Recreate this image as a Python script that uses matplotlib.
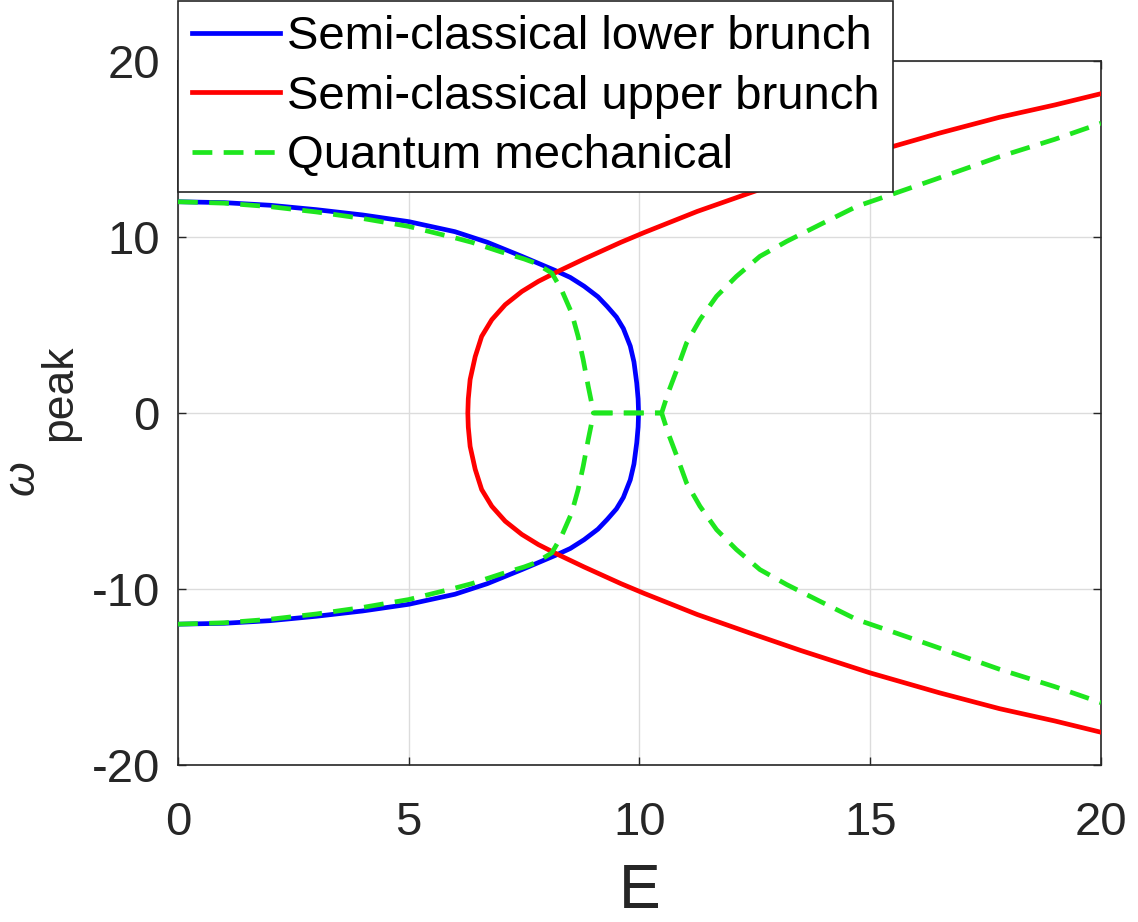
import numpy as np
import matplotlib
matplotlib.use("Agg")
import matplotlib.pyplot as plt

plt.rcParams['font.family'] = ['Liberation Sans', 'DejaVu Sans']

# ---- data ----
# semi-classical lower branch (upper half, symmetric about 0)
E_blue = [0, 1, 2, 3, 4, 5, 6, 6.7, 7.45, 8.17, 8.5, 8.8, 9.1, 9.3, 9.5, 9.65, 9.8,
          9.88, 9.94, 9.97, 9.98]
W_blue = [12.0, 11.95, 11.8, 11.55, 11.25, 10.87, 10.3, 9.7, 8.9, 8.1, 7.7, 7.2, 6.6,
          6.05, 5.45, 4.8, 3.8, 2.9, 1.7, 0.8, 0.0]

# semi-classical upper branch (upper half)
E_red = [6.28, 6.29, 6.33, 6.44, 6.58, 6.8, 7.09, 7.45, 7.81, 8.24, 8.8, 9.6, 10.1,
         11.25, 12.39, 13.5, 15.0, 16.5, 17.8, 19.0, 20.0]
W_red = [0.0, 0.8, 1.9, 3.2, 4.35, 5.3, 6.15, 6.9, 7.48, 8.05, 8.75, 9.7, 10.25,
         11.45, 12.5, 13.5, 14.77, 15.9, 16.8, 17.5, 18.14]

# quantum mechanical: left part (upper half)
E_qm_left = [0, 1, 2, 3, 4, 5, 6, 6.36, 7.0, 7.5, 7.74, 8.1, 8.31, 8.53, 8.67, 8.78,
             8.89, 8.96, 9.0]
W_qm_left = [12.0, 11.92, 11.72, 11.42, 11.05, 10.6, 9.95, 9.7, 9.15, 8.75, 8.52, 7.95,
             7.0, 5.68, 4.35, 3.03, 1.5, 0.6, 0.0]
# quantum mechanical: right part (upper half)
E_qm_right = [10.48, 10.62, 10.81, 11.02, 11.31, 11.67, 12.1, 12.61, 13.19, 13.91, 14.71,
              15.5, 16.37, 17.81, 19.0, 20.0]
W_qm_right = [0.0, 1.14, 2.46, 3.98, 5.3, 6.63, 7.76, 8.9, 9.75, 10.7, 11.74, 12.45,
              13.24, 14.57, 15.55, 16.46]

labels = ["Semi-classical lower brunch", "Semi-classical upper brunch", "Quantum mechanical"]
x_ticks = [0, 5, 10, 15, 20]
y_ticks = [-20, -10, 0, 10, 20]
y_tick_labels = ["-20", "-10", "0", "10", "20"]

# ---- figure ----
fig = plt.figure(figsize=(11.38, 9.22), dpi=100)
ax = fig.add_axes([0.1564, 0.1703, 0.8111, 0.7636])

eb = np.array(E_blue); wb = np.array(W_blue)
er = np.array(E_red); wr = np.array(W_red)
eql = np.array(E_qm_left); wql = np.array(W_qm_left)
eqr = np.array(E_qm_right); wqr = np.array(W_qm_right)

lw = 3.4
blue_x = np.concatenate([eb, eb[::-1]])
blue_y = np.concatenate([wb, -wb[::-1]])
red_x = np.concatenate([er[::-1], er])
red_y = np.concatenate([-wr[::-1], wr])

l1, = ax.plot(blue_x, blue_y, color='#0000ff', lw=lw, solid_joinstyle='round', zorder=3)
l2, = ax.plot(red_x, red_y, color='#ff0000', lw=lw, solid_joinstyle='round', zorder=3)
gcol = '#1ee61e'
g_x = np.concatenate([eql, eqr])
dash = (0, (4.2, 2.4))
l3, = ax.plot(g_x, np.concatenate([wql, wqr]), color=gcol, lw=lw, ls=dash,
              dash_capstyle='butt', zorder=4)
ax.plot(g_x, np.concatenate([-wql, -wqr]), color=gcol, lw=lw, ls=dash,
        dash_capstyle='butt', zorder=4)

ax.set_xlim(0, 20)
ax.set_ylim(-20, 20)
ax.set_xticks(x_ticks)
ax.set_yticks(y_ticks)
ax.set_yticklabels(y_tick_labels)
ax.grid(True, color='#dcdcdc', lw=1.0)
ax.set_axisbelow(True)

axc = '#262626'
for s in ax.spines.values():
    s.set_color(axc)
    s.set_linewidth(1.2)
ax.tick_params(direction='in', length=6, width=1.0, color=axc, labelcolor=axc,
               labelsize=34, top=True, right=True)
ax.tick_params(axis='x', pad=26)
ax.tick_params(axis='y', pad=13)

ax.set_xlabel("E", fontsize=45, color=axc, labelpad=12)

# y label: omega with subscript "peak"
fig.text(0.0195, 0.4816, "ω", rotation=90, fontsize=32, style='italic', color=axc,
         ha='center', va='center')
fig.text(0.052, 0.5738, "peak", rotation=90, fontsize=32, color=axc,
         ha='center', va='center')

leg = ax.legend([l1, l2, l3], labels, loc='upper left',
                bbox_to_anchor=(178 / 1138, 1 - 1 / 922), bbox_transform=fig.transFigure,
                borderaxespad=0, fontsize=34, frameon=True, fancybox=False,
                framealpha=1, edgecolor='#262626', handlelength=1.85,
                handletextpad=0.15, labelspacing=0.33, borderpad=0.3)
leg.get_frame().set_linewidth(1.2)
for t in leg.get_texts():
    t.set_color('black')

fig.savefig("out.png", dpi=100)
